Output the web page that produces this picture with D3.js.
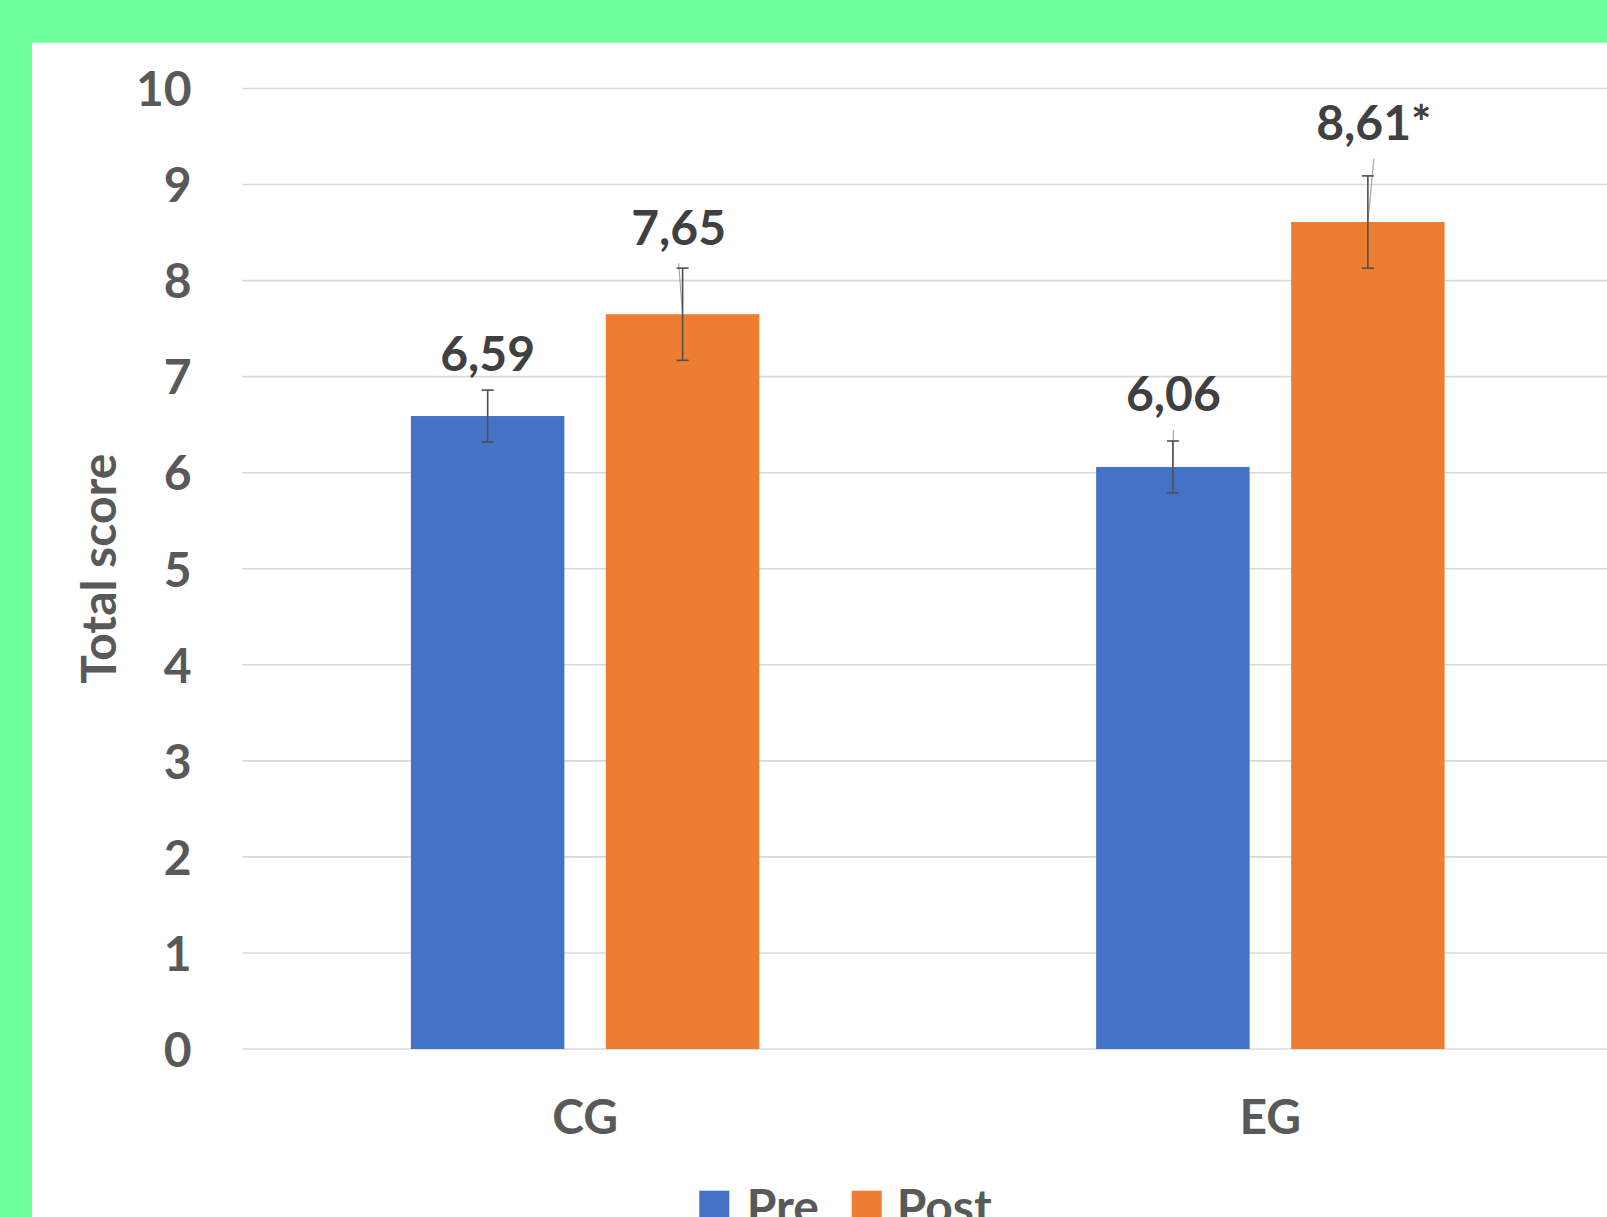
<!DOCTYPE html>
<html>
<head>
<meta charset="utf-8">
<script src="https://cdn.jsdelivr.net/npm/d3@7"></script>
<style>
  html, body { margin: 0; padding: 0; background: #6cff9a; }
  svg { display: block; }
  text { font-family: Lato, "Open Sans", sans-serif; font-weight: bold; }
</style>
</head>
<body>
<svg id="chart" width="1607" height="1217"></svg>
<script>
// ---- data ----
const categories = ["CG", "EG"];
const series = ["Pre", "Post"];
const preValues = [6.59, 6.06];
const postValues = [7.65, 8.61];
const preErrors = [0.27, 0.27];
const postErrors = [0.48, 0.48];
const significant = [[false, false], [false, true]];
const yTicks = [0, 1, 2, 3, 4, 5, 6, 7, 8, 9, 10];
const axisTitle = "Total score";
const seriesColors = ["#4472C4", "#ED7D31"];

// ---- layout ----
const W = 1607, H = 1217;
const svg = d3.select("#chart");

svg.append("rect").attr("x", 0).attr("y", 0).attr("width", W).attr("height", H).attr("fill", "#6cff9a");
svg.append("rect").attr("x", 32).attr("y", 42.7).attr("width", W - 32).attr("height", H - 42.7).attr("fill", "#ffffff");

const plotLeft = 242.5, plotRight = 1613, plotTop = 88.5, plotBottom = 1049;

const y = d3.scaleLinear().domain([0, 10]).range([plotBottom, plotTop]);
const x0 = d3.scaleBand().domain(categories).range([plotLeft, plotRight]).padding(0);
const groupW = x0.bandwidth() * 0.5085;
const x1 = d3.scaleBand().domain(series).range([0, groupW]).paddingInner(0.2128).paddingOuter(0);

const rows = [];
categories.forEach((c, i) => {
  [preValues[i], postValues[i]].forEach((v, j) => {
    rows.push({
      cat: c, ser: series[j], ci: i, si: j, value: v,
      err: j === 0 ? preErrors[i] : postErrors[i],
      label: v.toFixed(2).replace(".", ",") + (significant[i][j] ? "*" : "")
    });
  });
});
const barX = d => x0(d.cat) + (x0.bandwidth() - groupW) / 2 + x1(d.ser);
const barCx = d => barX(d) + x1.bandwidth() / 2;

// gridlines
svg.append("g").selectAll("line").data(yTicks).join("line")
  .attr("x1", plotLeft).attr("x2", plotRight)
  .attr("y1", d => y(d)).attr("y2", d => y(d))
  .attr("stroke", "#d9d9d9").attr("stroke-width", 1.6);

// y axis tick labels
const yAxis = d3.axisLeft(y).tickValues(yTicks).tickSize(0).tickPadding(0).tickFormat(d3.format("d"));
const gy = svg.append("g").attr("transform", `translate(${191.7},0)`).call(yAxis);
gy.select(".domain").remove();
gy.selectAll("text")
  .attr("font-family", "Lato, 'Open Sans', sans-serif").attr("font-weight", "bold")
  .attr("font-size", 48).attr("fill", "#595959").attr("dy", "0.36em");

// y axis title
svg.append("text")
  .attr("transform", `translate(116, ${(plotTop + plotBottom) / 2}) rotate(-90)`)
  .attr("text-anchor", "middle")
  .attr("font-size", 48).attr("fill", "#595959")
  .text(axisTitle);

// x axis category labels
const xAxis = d3.axisBottom(x0).tickSize(0).tickPadding(0);
const gx = svg.append("g").attr("transform", `translate(0, ${plotBottom})`).call(xAxis);
gx.select(".domain").remove();
gx.selectAll("text")
  .attr("font-family", "Lato, 'Open Sans', sans-serif").attr("font-weight", "bold")
  .attr("font-size", 48).attr("fill", "#595959").attr("dy", 0).attr("y", 85);

// bars
svg.append("g").selectAll("rect").data(rows).join("rect")
  .attr("x", d => barX(d)).attr("width", x1.bandwidth())
  .attr("y", d => y(d.value)).attr("height", d => y(0) - y(d.value))
  .attr("fill", d => seriesColors[d.si]);

// data label placement (pixel offsets of moved labels)
const labelDx = [0, -4, 0.5, 6];
const labelDy = [18.6, 23.3, 29.6, 35.7];
rows.forEach((d, k) => {
  d.lx = barCx(d) + labelDx[k];
  d.ly = y(d.value + d.err) - labelDy[k];
});

// leader lines
svg.append("g").selectAll("line").data(rows).join("line")
  .attr("x1", d => d.lx).attr("y1", d => d.ly + 18.5)
  .attr("x2", d => barCx(d)).attr("y2", d => y(d.value))
  .attr("stroke", "#a6a6a6").attr("stroke-width", 1.2);

// error bars
const eb = svg.append("g").attr("stroke", "#505050").attr("stroke-width", 1.6);
eb.selectAll("line.v").data(rows).join("line").attr("class", "v")
  .attr("x1", barCx).attr("x2", barCx)
  .attr("y1", d => y(d.value + d.err)).attr("y2", d => y(d.value - d.err));
eb.selectAll("line.t").data(rows).join("line").attr("class", "t")
  .attr("x1", d => barCx(d) - 6).attr("x2", d => barCx(d) + 6)
  .attr("y1", d => y(d.value + d.err)).attr("y2", d => y(d.value + d.err));
eb.selectAll("line.b").data(rows).join("line").attr("class", "b")
  .attr("x1", d => barCx(d) - 6).attr("x2", d => barCx(d) + 6)
  .attr("y1", d => y(d.value - d.err)).attr("y2", d => y(d.value - d.err));

// data labels
svg.append("g").selectAll("text").data(rows).join("text")
  .attr("x", d => d.lx).attr("y", d => d.ly)
  .attr("text-anchor", "middle")
  .attr("font-size", 48).attr("fill", "#404040")
  .text(d => d.label);

// legend
const legendItems = [
  { name: series[0], color: seriesColors[0], sx: 699.3, tx: 746.7 },
  { name: series[1], color: seriesColors[1], sx: 851.7, tx: 896.7 }
];
const lg = svg.append("g");
lg.selectAll("rect").data(legendItems).join("rect")
  .attr("x", d => d.sx).attr("y", 1190.7).attr("width", 30).attr("height", 30)
  .attr("fill", d => d.color);
lg.selectAll("text").data(legendItems).join("text")
  .attr("x", d => d.tx).attr("y", 1224)
  .attr("font-size", 48).attr("fill", "#595959")
  .text(d => d.name);
</script>
</body>
</html>
